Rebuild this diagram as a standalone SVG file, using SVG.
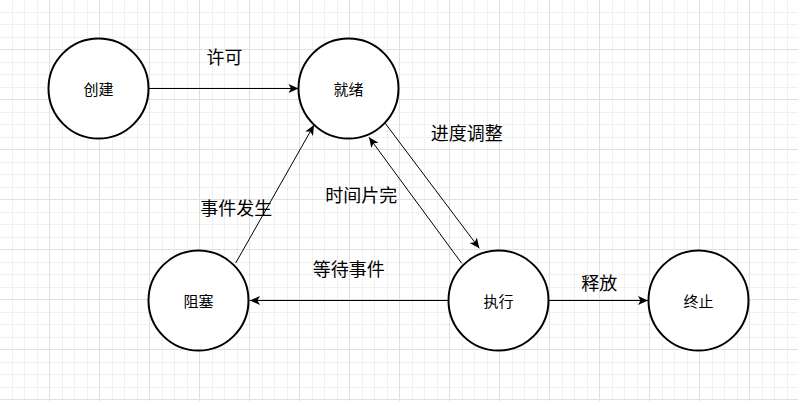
<svg xmlns="http://www.w3.org/2000/svg" width="798" height="401" viewBox="0 0 798 401">
<defs>
<pattern id="grid" width="50" height="50" patternUnits="userSpaceOnUse">
<path d="M12.5,0V50M24.5,0V50M37.5,0V50M0,12.5H50M0,24.5H50M0,37.5H50" stroke="#f0f0f0" stroke-width="1" fill="none"/>
<path d="M49.5,0V50M0,49.5H50" stroke="#dfdfdf" stroke-width="1" fill="none"/>
</pattern>
<marker id="arr" markerUnits="userSpaceOnUse" markerWidth="11" markerHeight="10" refX="10" refY="4.5" orient="auto" overflow="visible">
<path d="M0,0 L10,4.5 L0,9 L2.5,4.5 Z" fill="#000"/>
</marker>
</defs>
<style>
.node circle{fill:#fff;stroke:#000;stroke-width:2}
.node text{font-family:"Noto Sans CJK SC","Noto Sans",sans-serif;font-size:15px;fill:#000;text-anchor:middle;dominant-baseline:central}
.lbl{font-family:"Noto Sans CJK SC","Noto Sans",sans-serif;font-size:18px;fill:#000;text-anchor:middle;dominant-baseline:central}
.edges path{fill:none;stroke:#000;stroke-width:1;marker-end:url(#arr)}
</style>
<rect width="798" height="401" fill="#fff"/>
<rect width="798" height="401" fill="url(#grid)"/>
<g id="connectors" class="edges">
<path d="M148.5,88.5 L298.5,88.5"/>
<path d="M235.7,263 L314,125"/>
<path d="M385,123 L479.3,248.3"/>
<path d="M461.7,263.3 L369,137.3"/>
<path d="M448.5,300.5 L250,300.5"/>
<path d="M548.5,300.5 L648,300.5"/>
</g>
<g id="labels">
<text class="lbl" x="224.5" y="56">许可</text>
<text class="lbl" x="466.7" y="131.7">进度调整</text>
<text class="lbl" x="361.3" y="193.7">时间片完</text>
<text class="lbl" x="236.3" y="206.7">事件发生</text>
<text class="lbl" x="348.7" y="268.3">等待事件</text>
<text class="lbl" x="599.2" y="281.7">释放</text>
</g>
<g id="node-create" class="node"><circle cx="98.5" cy="88.5" r="50"/><text x="98.5" y="88.5">创建</text></g>
<g id="node-ready" class="node"><circle cx="348.5" cy="88.5" r="50"/><text x="348.5" y="88.5">就绪</text></g>
<g id="node-blocked" class="node"><circle cx="198.5" cy="300.5" r="50"/><text x="198.5" y="300.5">阻塞</text></g>
<g id="node-running" class="node"><circle cx="498.5" cy="300.5" r="50"/><text x="498.5" y="300.5">执行</text></g>
<g id="node-exit" class="node"><circle cx="698.5" cy="300.5" r="50"/><text x="698.5" y="300.5">终止</text></g>
</svg>
